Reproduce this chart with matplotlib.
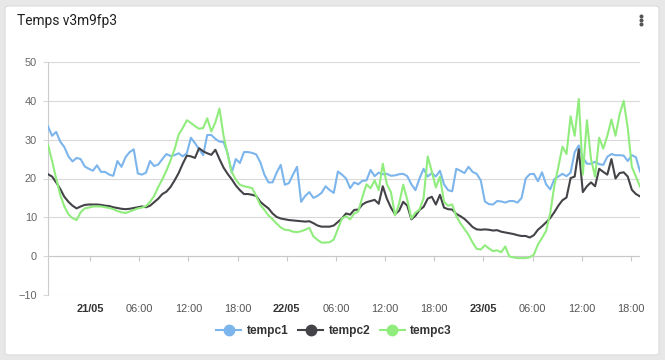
import matplotlib
matplotlib.use("Agg")
import matplotlib.pyplot as plt
from matplotlib.patches import FancyBboxPatch
from matplotlib.lines import Line2D
import pandas as pd

# ---------------- data ----------------
start_time = "2024-05-20 18:52:40"
end_time = "2024-05-23 19:06:00"
n_points = 146

tempc1 = [33.4, 31.0, 32.0, 29.5, 28.1, 25.7, 24.4, 25.3, 25.0, 23.1,
          22.5, 22.0, 23.4, 21.7, 21.7, 21.0, 20.7, 24.5, 23.0, 25.5,
          26.8, 27.5, 21.3, 21.0, 21.5, 24.5, 23.2, 23.6, 25.0, 26.3,
          25.8, 26.0, 26.5, 25.7, 26.5, 30.5, 29.1, 27.6, 26.0, 31.2,
          31.2, 30.2, 29.5, 29.4, 26.5, 21.5, 25.0, 24.0, 26.8, 26.8,
          26.6, 26.2, 24.2, 21.0, 19.0, 19.0, 21.5, 23.5, 18.4, 18.8,
          21.0, 23.0, 14.0, 15.5, 16.5, 15.0, 15.5, 16.3, 18.0, 17.0,
          16.3, 21.8, 21.0, 20.0, 17.5, 19.0, 18.5, 19.4, 19.5, 22.2,
          20.6, 21.5, 21.1, 21.2, 20.7, 20.8, 21.1, 21.2, 20.6, 18.5,
          17.0, 20.0, 22.5, 20.5, 21.4, 20.5, 22.0, 18.5, 17.0, 16.7,
          22.5, 22.0, 21.4, 23.0, 21.7, 21.2, 19.5, 14.1, 13.4, 13.3,
          14.2, 14.1, 13.8, 14.2, 14.2, 13.8, 15.0, 20.0, 21.1, 21.2,
          19.3, 21.6, 18.5, 17.2, 19.8, 20.5, 21.2, 20.6, 21.5, 26.8,
          28.5, 25.5, 23.8, 23.8, 24.3, 23.7, 23.5, 25.6, 26.3, 26.0,
          26.0, 25.9, 24.5, 26.0, 25.5, 21.8]

tempc2 = [21.1, 20.5, 19.0, 17.3, 15.3, 14.0, 13.0, 12.3, 12.8, 13.2,
          13.3, 13.3, 13.3, 13.2, 13.0, 12.9, 12.6, 12.4, 12.2, 12.1,
          12.2, 12.4, 12.6, 12.8, 12.6, 13.0, 13.9, 14.8, 16.0, 16.6,
          17.8, 19.5, 21.4, 23.8, 25.9, 25.7, 25.3, 27.8, 27.0, 26.5,
          26.1, 27.4, 25.0, 22.8, 21.2, 19.8, 18.2, 17.0, 16.0, 16.0,
          15.8, 15.5, 14.0, 13.1, 12.3, 11.0, 10.1, 9.7, 9.5, 9.3,
          9.2, 9.1, 9.0, 8.9, 9.0, 8.5, 7.9, 7.6, 7.6, 7.6,
          7.9, 8.8, 9.7, 11.0, 10.7, 11.9, 12.0, 13.3, 13.9, 14.2,
          14.5, 13.5, 18.0, 14.8, 12.5, 10.8, 11.7, 14.0, 13.0, 9.5,
          10.4, 11.9, 12.7, 14.8, 15.3, 13.3, 15.8, 12.5, 12.1, 12.0,
          10.9, 10.3, 9.6, 8.6, 7.5, 6.9, 6.8, 6.9, 6.8, 6.6,
          6.7, 6.3, 6.1, 5.9, 5.7, 5.4, 5.2, 5.2, 4.8, 5.4,
          6.8, 7.7, 8.7, 9.8, 11.3, 13.0, 14.4, 15.1, 20.1, 20.5,
          27.5, 16.5, 18.0, 19.0, 18.0, 22.5, 21.7, 21.0, 25.0, 20.0,
          21.4, 21.6, 20.5, 17.1, 16.0, 15.4]

tempc3 = [28.7, 24.5, 20.0, 15.8, 12.8, 10.8, 9.8, 9.3, 11.3, 12.3,
          12.5, 12.8, 12.8, 12.8, 12.6, 12.4, 12.1, 11.6, 11.3, 11.1,
          11.5, 11.9, 12.3, 12.5, 12.9, 14.0, 15.5, 17.8, 19.8, 22.0,
          24.6, 27.5, 31.3, 33.0, 35.0, 34.3, 33.5, 32.8, 33.0, 35.5,
          32.1, 34.5, 38.0, 31.0, 26.1, 21.7, 19.7, 18.4, 18.0, 17.8,
          17.5, 15.5, 13.2, 11.9, 10.5, 9.5, 8.4, 7.4, 6.8, 6.7,
          6.3, 6.2, 6.4, 6.8, 7.3, 5.1, 4.2, 3.5, 3.5, 3.6,
          4.3, 7.0, 9.7, 10.3, 9.5, 11.0, 11.5, 15.2, 18.5, 17.5,
          19.5, 17.0, 23.8, 18.5, 16.5, 10.5, 13.5, 18.4, 14.5, 9.7,
          11.2, 12.0, 15.0, 25.7, 21.8, 17.7, 20.5, 14.0, 13.0, 13.3,
          10.3, 8.5, 7.0, 5.5, 3.5, 1.9, 1.7, 2.8, 2.0, 1.3,
          1.5, 1.0, 2.5, -0.1, -0.3, -0.5, -0.5, -0.5, -0.3, 0.4,
          3.0, 4.7, 6.5, 11.0, 18.0, 23.0, 28.2, 26.3, 36.0, 31.0,
          40.5, 21.0, 35.0, 25.0, 20.5, 30.5, 27.7, 31.0, 35.2, 31.0,
          36.5, 40.0, 33.0, 23.0, 20.5, 17.9]

series_names = ["tempc1", "tempc2", "tempc3"]
series_colors = ["#7cb5ec", "#434348", "#90ed7d"]
y_ticks = [-10, 0, 10, 20, 30, 40, 50]
title_text = "Temps v3m9fp3"

times = pd.date_range(start_time, end_time, periods=n_points)
x_ticks = pd.date_range("2024-05-21 00:00", "2024-05-23 18:00", freq="6h")

# ---------------- figure ----------------
W, H = 665, 360
fig = plt.figure(figsize=(W / 100, H / 100), dpi=100)
fig.patch.set_facecolor("#e8e8e8")

card = FancyBboxPatch((5 / W, 5 / H), 654 / W, 349 / H,
                      boxstyle="round,pad=0,rounding_size=0.006",
                      transform=fig.transFigure, facecolor="white",
                      edgecolor="#dadada", linewidth=0.8, zorder=-5)
fig.patches.append(card)

fig.text(17 / W, 1 - 20.5 / H, title_text, fontsize=9.9, family="Roboto",
         color="#212121", va="center", ha="left")
for dy in (16, 20, 24):
    fig.lines.append(Line2D([641 / W], [1 - dy / H], marker="o", markersize=1.9,
                            color="#555555", transform=fig.transFigure,
                            linestyle="none"))

ax = fig.add_axes([48 / W, (H - 295) / H, 592 / W, 233 / H])
ax.set_facecolor("none")
ax.set_zorder(2)

for vals, name, col in zip([tempc1, tempc2, tempc3], series_names, series_colors):
    ax.plot(times, vals, color=col, lw=1.5, label=name, zorder=3,
            solid_joinstyle="round")

ax.set_xlim(times[0], times[-1])
ax.set_ylim(-10, 50)
ax.set_yticks(y_ticks)
ax.yaxis.grid(True, color="#d9d9d9", lw=0.8, zorder=0)
ax.set_axisbelow(True)
ax.tick_params(axis="y", length=3.6, width=0.8, color="#d9d9d9", pad=4.3,
               labelsize=7.9, labelcolor="#666666")
for lab in ax.get_yticklabels():
    lab.set_family("Liberation Sans")

for s in ["top", "right", "bottom"]:
    ax.spines[s].set_visible(False)
ax.spines["left"].set_color("#cccccc")
ax.spines["left"].set_linewidth(0.8)

# x axis line at zero with ticks hanging below
ax.axhline(0, color="#c8c8c8", lw=0.8, zorder=1)
ax.vlines(x_ticks, -1.3, 0, color="#c8c8c8", lw=0.8, zorder=1)

ax.set_xticks(x_ticks)
labels = [t.strftime("%d/%m") if t.hour == 0 else t.strftime("%H:%M") for t in x_ticks]
ax.set_xticklabels(labels)
ax.tick_params(axis="x", length=0, pad=6.5, labelsize=7.9, labelcolor="#555555")
for lab, t in zip(ax.get_xticklabels(), x_ticks):
    lab.set_family("Liberation Sans")
    if t.hour == 0:
        lab.set_fontweight("bold")
        lab.set_color("#333333")

handles = [Line2D([0], [0], color=c, lw=1.5, marker="o", markersize=7.5)
           for c in series_colors]
leg = fig.legend(handles, series_names, loc="center", ncol=3,
                 bbox_to_anchor=(334 / W, 1 - 331 / H), frameon=False,
                 handlelength=2.1, handletextpad=0.45, columnspacing=0.8,
                 prop={"family": "Liberation Sans", "weight": "bold", "size": 8.6})
for t in leg.get_texts():
    t.set_color("#333333")

fig.savefig("out.png", dpi=100, facecolor=fig.get_facecolor())
